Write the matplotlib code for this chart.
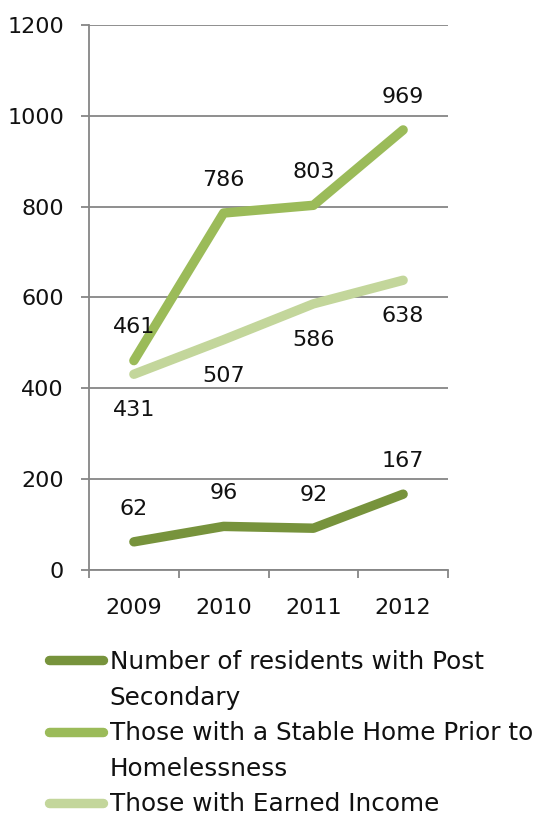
import numpy as np
import matplotlib
matplotlib.use('Agg')
import matplotlib.pyplot as plt
from matplotlib.lines import Line2D

## Data

years = ['2009', '2010', '2011', '2012']
post_secondary = [62, 96, 92, 167]
stable_home = [461, 786, 803, 969]
earned_income = [431, 507, 586, 638]

names = [['Number of residents with Post', 'Secondary'],
         ['Those with a Stable Home Prior to', 'Homelessness'],
         ['Those with Earned Income']]
colors = ['#77933C', '#9BBB59', '#C3D69B']
label_offsets = [24, 24, -26]   # points, + above / - below

## Figure

plt.rcParams['font.family'] = ['DejaVu Sans']
fs = 16
fs_leg = 17.8

fig = plt.figure(figsize=(5.41, 8.16), dpi=100)
ax = fig.add_axes([89/541, 1-570/816, (448-89)/541, (570-25)/816])

x = np.arange(len(years))
handles, labels = [], []
for vals, name, col, off in zip([post_secondary, stable_home, earned_income], names, colors, label_offsets):
    ln, = ax.plot(x, vals, color=col, lw=6.8, solid_capstyle='round', solid_joinstyle='round')
    for xi, v in zip(x, vals):
        ax.annotate(str(v), (xi, v), xytext=(0, off), textcoords='offset points',
                    ha='center', va='center', fontsize=fs, color='#111111')
    # multi-line labels: first line gets the line handle, the rest blank handles
    handles.append(ln)
    labels.append(name[0])
    for extra in name[1:]:
        handles.append(Line2D([], [], color='none'))
        labels.append(extra)

ax.set_xlim(-0.5, 3.5)
ax.set_ylim(0, 1200)
ax.set_yticks(range(0, 1201, 200))
ax.set_xticks(x, years)
ax.set_xticks(np.arange(-0.5, 3.6, 1), minor=True)
ax.tick_params(axis='x', which='major', length=0, pad=20, labelsize=fs, labelcolor='#111111')
ax.tick_params(axis='x', which='minor', length=6, width=1.3, color='#868686', direction='out')
ax.tick_params(axis='y', length=6, width=1.3, color='#868686', pad=12, labelsize=fs, labelcolor='#111111')
ax.grid(axis='y', color='#868686', lw=1.3)
ax.set_axisbelow(True)
for s in ['top', 'right']:
    ax.spines[s].set_visible(False)
for s in ['left', 'bottom']:
    ax.spines[s].set_color('#868686')
    ax.spines[s].set_linewidth(1.3)

leg = fig.legend(handles, labels, loc='upper left', bbox_to_anchor=(49/541, 1-650/816), frameon=False,
                 fontsize=fs_leg, handlelength=2.2, handletextpad=0.25, labelspacing=0.47,
                 borderpad=0, borderaxespad=0)
for t in leg.get_texts():
    t.set_color('#111111')

fig.savefig('out.png', dpi=100)
